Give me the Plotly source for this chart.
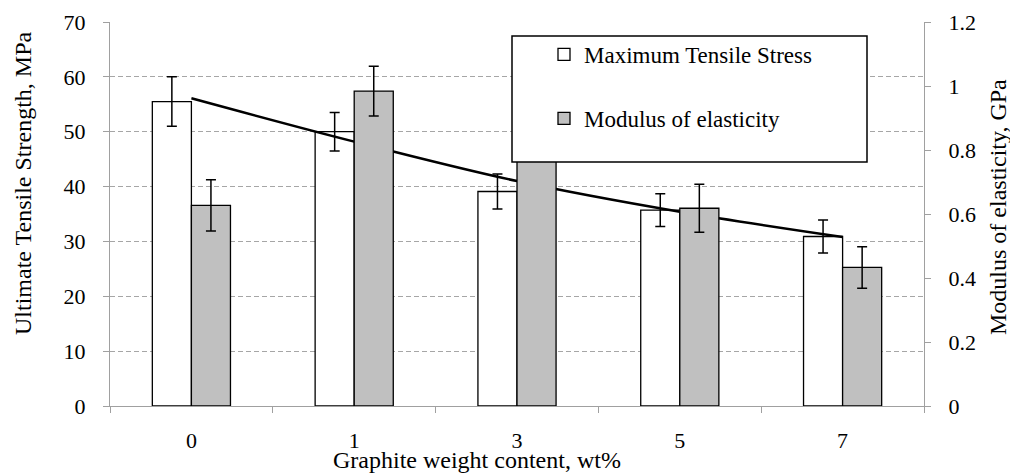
import plotly.graph_objects as go

# ---- data ----
categories = ["0", "1", "3", "5", "7"]
tensile_stress = [55.5, 50.0, 39.1, 35.7, 30.9]          # MPa (left axis)
tensile_err = [4.5, 3.5, 3.2, 3.0, 3.0]
modulus = [0.627, 0.984, 0.88, 0.618, 0.433]              # GPa (right axis)
modulus_err = [0.080, 0.078, 0.075, 0.075, 0.065]
trend_stress = [56.1, 48.2, 41.0, 35.4, 30.8]             # trend line (MPa)

FONT = "Liberation Serif, Times New Roman, serif"
AXIS_GRAY = "#a0a0a0"

fig = go.Figure()

fig.add_trace(go.Bar(
    x=categories, y=tensile_stress, name="Maximum Tensile Stress",
    marker=dict(color="white", line=dict(color="black", width=1.3)),
    error_y=dict(type="data", array=tensile_err, color="black", thickness=1.5, width=5),
    offsetgroup="1", alignmentgroup="a", yaxis="y", legendgroup="g1",
))
fig.add_trace(go.Bar(
    x=categories, y=modulus, name="Modulus of elasticity",
    marker=dict(color="#c0c0c0", line=dict(color="black", width=1.3)),
    error_y=dict(type="data", array=modulus_err, color="black", thickness=1.5, width=5),
    offsetgroup="2", alignmentgroup="a", yaxis="y2", legendgroup="g2",
))
fig.add_trace(go.Scatter(
    x=categories, y=trend_stress, mode="lines", line=dict(color="black", width=2.5, shape="spline"),
    showlegend=False, yaxis="y", hoverinfo="skip",
))

# page has an 8px body margin; target plot area in screen px: x 110..924, y 22..406
OFF = 8
W, H = 1018 - OFF, 475 - OFF
L, T = 110 - OFF, 22 - OFF
R = W - (924 - OFF)
B = H - (406 - OFF)
pw, ph = W - L - R, H - T - B


def px_x(x):
    return (x - OFF - L) / pw


def px_y(y):
    return (H - B - (y - OFF)) / ph


fig.update_layout(
    width=W, height=H,
    margin=dict(l=L, r=R, t=T, b=B, autoexpand=False),
    paper_bgcolor="white", plot_bgcolor="white",
    font=dict(family=FONT, size=22, color="black"),
    barmode="group", bargap=0.52, bargroupgap=0,
    xaxis=dict(
        type="category", showline=True, linecolor=AXIS_GRAY, linewidth=1.3,
        ticks="outside", tickson="boundaries", ticklen=6, tickcolor=AXIS_GRAY, tickwidth=1.3,
        ticklabelstandoff=14, showgrid=False, tickfont=dict(family=FONT, size=22),
        automargin=False,
    ),
    yaxis=dict(
        range=[0, 70], dtick=10, showline=True, linecolor=AXIS_GRAY, linewidth=1.3,
        ticks="outside", ticklen=6, tickcolor=AXIS_GRAY, tickwidth=1.3,
        showgrid=True, gridcolor="#a6a6a6", griddash="5px,3px", gridwidth=1,
        zeroline=False, ticklabelstandoff=13, tickfont=dict(family=FONT, size=22),
        automargin=False,
    ),
    yaxis2=dict(
        range=[0, 1.2], dtick=0.2, overlaying="y", side="right",
        showline=True, linecolor=AXIS_GRAY, linewidth=1.3,
        ticks="outside", ticklen=6, tickcolor=AXIS_GRAY, tickwidth=1.3,
        showgrid=False, zeroline=False, ticklabelstandoff=13, tickfont=dict(family=FONT, size=22),
        automargin=False,
    ),
    legend=dict(
        x=px_x(544), y=px_y(33), xanchor="left", yanchor="top",
        bgcolor="rgba(0,0,0,0)", borderwidth=0,
        font=dict(family=FONT, size=23, color="black"), tracegroupgap=31,
    ),
    shapes=[dict(
        type="rect", xref="paper", yref="paper", layer="above",
        x0=px_x(512), x1=px_x(867), y0=px_y(162), y1=px_y(36),
        line=dict(color="black", width=1.5), fillcolor="white",
    )],
    annotations=[
        dict(text="Graphite weight content, wt%", xref="paper", yref="paper",
             x=px_x(477), y=px_y(460), showarrow=False, font=dict(family=FONT, size=24, color="black"),
             xanchor="center", yanchor="middle"),
        dict(text="Ultimate Tensile Strength, MPa", xref="paper", yref="paper",
             x=px_x(23), y=px_y(183), showarrow=False, textangle=-90,
             font=dict(family=FONT, size=24, color="black"),
             xanchor="center", yanchor="middle"),
        dict(text="Modulus of elasticity, GPa", xref="paper", yref="paper",
             x=px_x(998), y=px_y(207), showarrow=False, textangle=-90,
             font=dict(family=FONT, size=24, color="black"),
             xanchor="center", yanchor="middle"),
    ],
)

fig.write_html("out.html")
